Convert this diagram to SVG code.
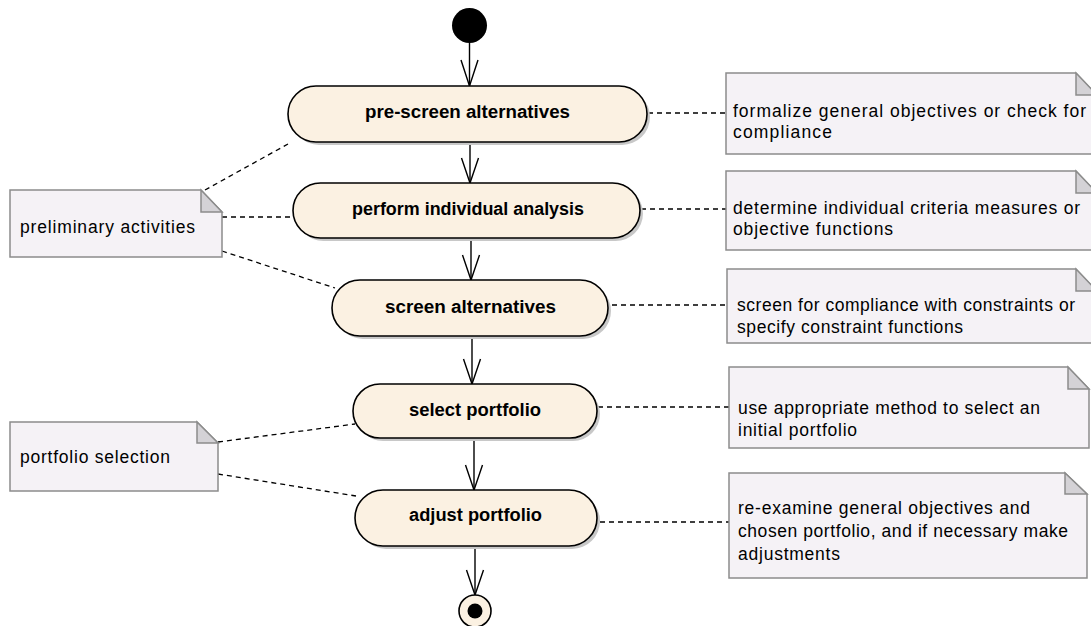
<svg xmlns="http://www.w3.org/2000/svg" width="1091" height="626" viewBox="0 0 1091 626">
<defs>
<style>
.act{fill:#FBF1E2;stroke:#000;stroke-width:1.6}
.sh{fill:#C8C8C8}
.at{font-family:"Liberation Sans",Arial,sans-serif;font-size:17.5px;font-weight:bold;fill:#000}
.note{fill:#F5F2F6;stroke:#8C8C8C;stroke-width:1.5}
.fold{fill:#D4D2D6;stroke:#8C8C8C;stroke-width:1.5;stroke-linejoin:miter}
.nt{font-family:"Liberation Sans",Arial,sans-serif;font-size:17.5px;fill:#000}
.flow{stroke:#000;stroke-width:1.4;fill:none}
.dash{stroke:#000;stroke-width:1.3;fill:none;stroke-dasharray:5,4}
</style>
</defs>

<g id="connectors">
<line class="flow" x1="469.5" y1="43" x2="469.5" y2="86"/>
<path class="flow" d="M461,60 L469.5,86 L478,60"/>
<line class="flow" x1="470" y1="142" x2="470" y2="183"/>
<path class="flow" d="M461.5,158 L470,183 L478.5,158"/>
<line class="flow" x1="471" y1="238" x2="471" y2="280"/>
<path class="flow" d="M462.5,255 L471,280 L479.5,255"/>
<line class="flow" x1="472" y1="336" x2="472" y2="384"/>
<path class="flow" d="M463.5,359 L472,384 L480.5,359"/>
<line class="flow" x1="474" y1="438" x2="474" y2="490"/>
<path class="flow" d="M465.5,465 L474,490 L482.5,465"/>
<line class="flow" x1="475" y1="546" x2="475" y2="595"/>
<path class="flow" d="M466.5,570 L475,595 L483.5,570"/>

<line class="dash" x1="648" y1="113" x2="726" y2="113"/>
<line class="dash" x1="641" y1="209" x2="726" y2="209"/>
<line class="dash" x1="612" y1="305" x2="727" y2="305"/>
<line class="dash" x1="598" y1="407" x2="729" y2="407"/>
<line class="dash" x1="600" y1="522" x2="729" y2="522"/>

<line class="dash" x1="205" y1="190" x2="288" y2="144"/>
<line class="dash" x1="222" y1="217" x2="293" y2="217"/>
<line class="dash" x1="222" y1="251" x2="335" y2="288"/>
<line class="dash" x1="218" y1="442" x2="355" y2="424"/>
<line class="dash" x1="218" y1="474" x2="356" y2="496"/>
</g>

<g id="start"><circle cx="469.5" cy="25.5" r="17.5" fill="#000"/></g>

<g id="pre-screen">
<rect class="sh" x="291" y="89" width="359" height="56" rx="28"/>
<rect class="act" x="288" y="86" width="359" height="56" rx="28"/>
<text class="at" x="365" y="118" textLength="205" lengthAdjust="spacingAndGlyphs">pre-screen alternatives</text>
</g>

<g id="perform">
<rect class="sh" x="296" y="186" width="347" height="55" rx="27.5"/>
<rect class="act" x="293" y="183" width="347" height="55" rx="27.5"/>
<text class="at" x="352" y="215" textLength="232" lengthAdjust="spacingAndGlyphs">perform individual analysis</text>
</g>

<g id="screen">
<rect class="sh" x="335" y="283" width="276" height="56" rx="28"/>
<rect class="act" x="332" y="280" width="276" height="56" rx="28"/>
<text class="at" x="385" y="313" textLength="171" lengthAdjust="spacingAndGlyphs">screen alternatives</text>
</g>

<g id="select">
<rect class="sh" x="356" y="387" width="244" height="54" rx="27"/>
<rect class="act" x="353" y="384" width="244" height="54" rx="27"/>
<text class="at" x="409" y="416" textLength="132" lengthAdjust="spacingAndGlyphs">select portfolio</text>
</g>

<g id="adjust">
<rect class="sh" x="358" y="493" width="242" height="56" rx="28"/>
<rect class="act" x="355" y="490" width="242" height="56" rx="28"/>
<text class="at" x="409" y="521" textLength="133" lengthAdjust="spacingAndGlyphs">adjust portfolio</text>
</g>

<g id="end">
<circle cx="475" cy="611" r="16" fill="#FBF1E2" stroke="#000" stroke-width="1.6"/>
<circle cx="475" cy="611" r="7.5" fill="#000"/>
</g>

<g id="note-preliminary">
<path class="note" d="M10,190 L201,190 L222,212 L222,257 L10,257 Z"/>
<path class="fold" d="M201,190 L201,212 L222,212 Z"/>
<text class="nt" x="20" y="233" textLength="175" lengthAdjust="spacing">preliminary activities</text>
</g>

<g id="note-portfolio">
<path class="note" d="M10,422 L197,422 L218,443 L218,491 L10,491 Z"/>
<path class="fold" d="M197,422 L197,443 L218,443 Z"/>
<text class="nt" x="20" y="463" textLength="150" lengthAdjust="spacing">portfolio selection</text>
</g>

<g id="note1">
<path class="note" d="M726,73 L1076,73 L1097,95 L1097,154 L726,154 Z"/>
<path class="fold" d="M1076,73 L1076,95 L1097,95 Z"/>
<text class="nt" x="733" y="117" textLength="353" lengthAdjust="spacing">formalize general objectives or check for</text>
<text class="nt" x="733" y="138" textLength="99" lengthAdjust="spacing">compliance</text>
</g>

<g id="note2">
<path class="note" d="M726,171 L1076,171 L1097,193 L1097,250 L726,250 Z"/>
<path class="fold" d="M1076,171 L1076,193 L1097,193 Z"/>
<text class="nt" x="733" y="214" textLength="347" lengthAdjust="spacing">determine individual criteria measures or</text>
<text class="nt" x="733" y="235" textLength="160" lengthAdjust="spacing">objective functions</text>
</g>

<g id="note3">
<path class="note" d="M727,269 L1076,269 L1097,291 L1097,343 L727,343 Z"/>
<path class="fold" d="M1076,269 L1076,291 L1097,291 Z"/>
<text class="nt" x="737" y="311" textLength="338" lengthAdjust="spacing">screen for compliance with constraints or</text>
<text class="nt" x="737" y="333" textLength="226" lengthAdjust="spacing">specify constraint functions</text>
</g>

<g id="note4">
<path class="note" d="M729,367 L1068,367 L1089,389 L1089,448 L729,448 Z"/>
<path class="fold" d="M1068,367 L1068,389 L1089,389 Z"/>
<text class="nt" x="738" y="414" textLength="302" lengthAdjust="spacing">use appropriate method to select an</text>
<text class="nt" x="738" y="436" textLength="119" lengthAdjust="spacing">initial portfolio</text>
</g>

<g id="note5">
<path class="note" d="M729,473 L1065,473 L1087,494 L1087,578 L729,578 Z"/>
<path class="fold" d="M1065,473 L1065,494 L1087,494 Z"/>
<text class="nt" x="738" y="514" textLength="292" lengthAdjust="spacing">re-examine general objectives and</text>
<text class="nt" x="738" y="537" textLength="330" lengthAdjust="spacing">chosen portfolio, and if necessary make</text>
<text class="nt" x="738" y="560" textLength="102" lengthAdjust="spacing">adjustments</text>
</g>
</svg>
